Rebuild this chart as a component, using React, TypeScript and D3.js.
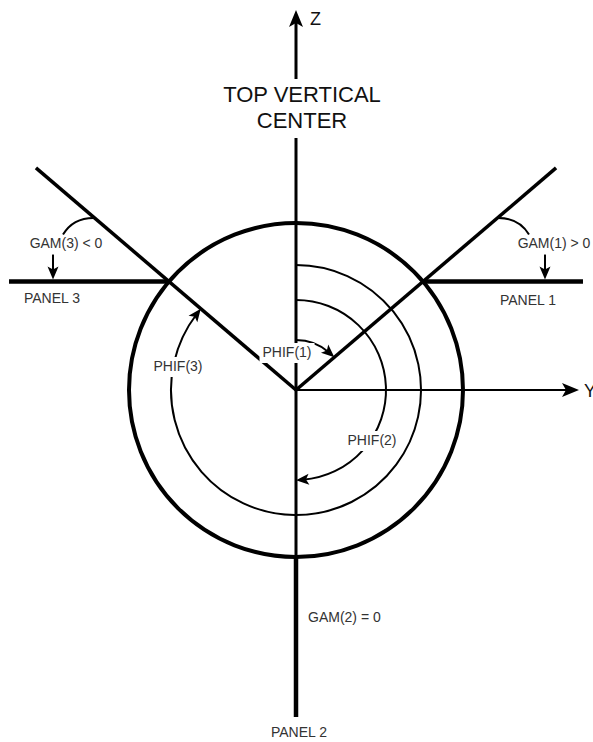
import React, { useEffect, useRef } from "react";
import * as d3 from "d3";

// angles in degrees, clockwise from +Z (top vertical center)
const panelLabels = ["PANEL 1", "PANEL 2", "PANEL 3"];
const panelAngles = [49.5, 180, 310.5];
const phifLabels = ["PHIF(1)", "PHIF(2)", "PHIF(3)"];
const gamLabels = ["GAM(1) > 0", "GAM(2) = 0", "GAM(3) < 0"];
const axisLabels = ["Z", "Y"];
const titleLines = ["TOP VERTICAL", "CENTER"];

const W = 593;
const H = 742;
const FONT = "'Liberation Sans', Arial, Helvetica, sans-serif";

export default function App() {
  const ref = useRef<SVGSVGElement>(null);

  useEffect(() => {
    if (!ref.current) return;
    const svg = d3.select(ref.current);
    svg.selectAll("*").remove();

    const cx = 296;
    const cy = 390;
    const R = 167; // outer circle
    const rayLen = 342;
    const panelLen = 160;
    const phifR = [50, 90, 125];

    const rad = d3.scaleLinear().domain([0, 360]).range([0, 2 * Math.PI]);
    const polar = (deg: number, r: number, ox = cx, oy = cy): [number, number] => [
      ox + r * Math.sin(rad(deg)),
      oy - r * Math.cos(rad(deg)),
    ];

    const defs = svg.append("defs");
    defs
      .append("marker")
      .attr("id", "head")
      .attr("viewBox", "-8 -7 18 14")
      .attr("refX", 0)
      .attr("refY", 0)
      .attr("markerWidth", 18)
      .attr("markerHeight", 14)
      .attr("markerUnits", "userSpaceOnUse")
      .attr("orient", "auto")
      .append("path")
      .attr("d", "M7,0 L-6,-5.5 L-3,0 L-6,5.5 Z")
      .attr("fill", "#000");

    const g = svg.append("g");
    const ink = "#000";

    // big arrowhead helper
    const bigHead = (x: number, y: number, angle: number) => {
      g.append("path")
        .attr("d", "M0,0 L-17,-7 L-13,0 L-17,7 Z")
        .attr("transform", `translate(${x},${y}) rotate(${angle})`)
        .attr("fill", ink);
    };

    // Z axis
    g.append("line")
      .attr("x1", cx).attr("y1", cy + R)
      .attr("x2", cx).attr("y2", 20)
      .attr("stroke", ink).attr("stroke-width", 3);
    bigHead(cx, 10, -90);

    // Y axis
    g.append("line")
      .attr("x1", cx).attr("y1", cy)
      .attr("x2", 568).attr("y2", cy)
      .attr("stroke", ink).attr("stroke-width", 2);
    bigHead(579, cy, 0);

    // outer circle
    g.append("circle")
      .attr("cx", cx).attr("cy", cy).attr("r", R)
      .attr("fill", "none").attr("stroke", ink).attr("stroke-width", 4);

    // panel normals (rays) and panels
    const panelDir: [number, number][] = [[1, 0], [0, 1], [-1, 0]];
    panelAngles.forEach((a, i) => {
      if (a !== 180) {
        const [x2, y2] = polar(a, rayLen);
        g.append("line")
          .attr("x1", cx).attr("y1", cy).attr("x2", x2).attr("y2", y2)
          .attr("stroke", ink).attr("stroke-width", 3.5);
      }
      const [px, py] = polar(a, R);
      g.append("line")
        .attr("x1", px).attr("y1", py)
        .attr("x2", px + panelDir[i][0] * panelLen)
        .attr("y2", py + panelDir[i][1] * panelLen)
        .attr("stroke", ink).attr("stroke-width", 4.5);
    });

    // PHIF arcs, clockwise from +Z to each panel
    panelAngles.forEach((a, i) => {
      const r = phifR[i];
      const p = d3.path();
      const shorten = 7 / r;
      p.arc(cx, cy, r, rad(-90), rad(a - 90) - shorten, false);
      g.append("path")
        .attr("d", p.toString())
        .attr("fill", "none").attr("stroke", ink).attr("stroke-width", 2)
        .attr("marker-end", "url(#head)");
    });

    // GAM curves for panels 1 and 3
    [0, 2].forEach((i) => {
      const s = i === 0 ? 1 : -1;
      const [px, py] = polar(panelAngles[i], R);
      const [sx, sy] = polar(panelAngles[i], 98, px, py);
      const p = d3.path();
      p.moveTo(sx, sy);
      p.quadraticCurveTo(px + s * 96, py - 64, px + s * 106, py - 47);
      g.append("path")
        .attr("d", p.toString())
        .attr("fill", "none").attr("stroke", ink).attr("stroke-width", 2);
      const ax = i === 0 ? px + 122 : px - 116;
      g.append("line")
        .attr("x1", ax).attr("y1", py - 27)
        .attr("x2", ax).attr("y2", py - 9)
        .attr("stroke", ink).attr("stroke-width", 2)
        .attr("marker-end", "url(#head)");
    });

    // labels
    type Lbl = { t: string; x: number; y: number; size: number; anchor: string; bg?: number };
    const labels: Lbl[] = [
      { t: axisLabels[0], x: 310, y: 25, size: 18, anchor: "start" },
      { t: axisLabels[1], x: 584, y: 397, size: 18, anchor: "start" },
      { t: titleLines[0], x: 302, y: 102, size: 22, anchor: "middle", bg: 5 },
      { t: titleLines[1], x: 302, y: 128, size: 22, anchor: "middle", bg: 5 },
      { t: gamLabels[0], x: 554, y: 248, size: 14, anchor: "middle" },
      { t: gamLabels[1], x: 308, y: 622, size: 14, anchor: "start" },
      { t: gamLabels[2], x: 66, y: 248, size: 14, anchor: "middle" },
      { t: panelLabels[0], x: 528, y: 305, size: 14, anchor: "middle" },
      { t: panelLabels[1], x: 299, y: 737, size: 14, anchor: "middle" },
      { t: panelLabels[2], x: 52, y: 303, size: 14, anchor: "middle" },
      { t: phifLabels[0], x: 287, y: 357, size: 14, anchor: "middle", bg: 3 },
      { t: phifLabels[1], x: 372, y: 445, size: 14, anchor: "middle", bg: 3 },
      { t: phifLabels[2], x: 178, y: 371, size: 14, anchor: "middle", bg: 3 },
    ];

    const bgLayer = svg.append("g");
    const txtLayer = svg.append("g");
    labels.forEach((l) => {
      const t = txtLayer
        .append("text")
        .attr("x", l.x).attr("y", l.y)
        .attr("text-anchor", l.anchor)
        .attr("font-family", FONT)
        .attr("font-size", l.size)
        .attr("fill", l.size > 15 ? "#111" : "#333")
        .text(l.t);
      if (l.bg !== undefined) {
        const b = (t.node() as SVGTextElement).getBBox();
        bgLayer
          .append("rect")
          .attr("x", b.x - l.bg).attr("y", b.y - l.bg + 2)
          .attr("width", b.width + 2 * l.bg).attr("height", b.height + 2 * l.bg - 2)
          .attr("fill", "#fff");
      }
    });
  }, []);

  return (
    <div style={{ position: "absolute", left: 0, top: 0, background: "#fff" }}>
      <svg ref={ref} width={W} height={H} style={{ display: "block" }} />
    </div>
  );
}
